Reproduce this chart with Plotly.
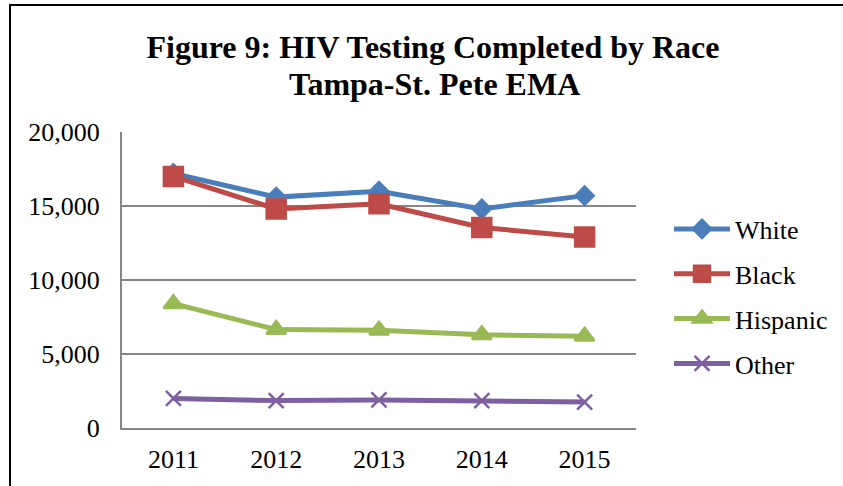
import plotly.graph_objects as go

years = ["2011", "2012", "2013", "2014", "2015"]
white = [17200, 15600, 16000, 14800, 15700]
black = [17000, 14800, 15150, 13550, 12900]
hispanic = [8400, 6650, 6600, 6300, 6200]
other = [2000, 1850, 1900, 1850, 1750]

series = [
    ("White", white, "#4A7EBB", "diamond", 14),
    ("Black", black, "#BE4B48", "square", 19),
    ("Hispanic", hispanic, "#98B954", "triangle-up", 17),
    ("Other", other, "#7D60A0", "x-thin", 15),
]

title_line1 = "Figure 9: HIV Testing Completed by Race"
title_line2 = "Tampa-St. Pete EMA"

FONT = "Liberation Serif, Times New Roman, serif"

fig = go.Figure()
for name, vals, color, sym, size in series:
    fig.add_trace(go.Scatter(
        x=years, y=vals, name=name, mode="lines+markers",
        legendgroup=name,
        line=dict(color=color, width=5),
        marker=dict(symbol=sym, size=size, color=color,
                    line=dict(color=color, width=2.5)),
    ))

W, H = 843, 486
L, R, T, B = 122, 636, 132, 428
PW, PH = R - L, B - T
fig.update_layout(
    width=W, height=H,
    margin=dict(l=L, r=W - R, t=T, b=H - B, autoexpand=False),
    paper_bgcolor="white", plot_bgcolor="white",
    font=dict(family=FONT, size=26, color="black"),
    title=dict(
        text="<b>" + title_line1 + "</b>",
        font=dict(family=FONT, size=32, color="black"),
        x=433 / W, xanchor="center", xref="container",
        y=1 - 47 / H, yanchor="middle", yref="container",
    ),
    annotations=[dict(
        text="<b>" + title_line2 + "</b>", showarrow=False,
        xref="paper", yref="paper",
        x=(434 - L) / PW, xanchor="center",
        y=1 + (T - 84) / PH, yanchor="middle",
        font=dict(family=FONT, size=32, color="black"),
    )],
    showlegend=True,
    legend=dict(
        x=(669 - L) / PW, xanchor="left",
        y=0.444, yanchor="middle",
        font=dict(family=FONT, size=26, color="black"),
        traceorder="grouped", tracegroupgap=8,
        itemwidth=56, bgcolor="rgba(0,0,0,0)",
    ),
    xaxis=dict(
        type="category", range=[-0.5, len(years) - 0.5],
        showline=True, linecolor="#868686", linewidth=2,
        showgrid=False, ticks="", ticklabelstandoff=7,
        tickfont=dict(family=FONT, size=26, color="black"),
    ),
    yaxis=dict(
        range=[0, 20000], dtick=5000, tickformat=",",
        showline=True, linecolor="#868686", linewidth=2,
        showgrid=True, gridcolor="#868686", gridwidth=1.5,
        zeroline=False, ticks="", ticklabelstandoff=15,
        tickfont=dict(family=FONT, size=26, color="black"),
    ),
    shapes=[dict(
        type="rect", xref="paper", yref="paper",
        x0=(10 - L) / PW, x1=(860 - L) / PW,
        y0=(B - 500) / PH, y1=1 + (T - 5) / PH,
        line=dict(color="black", width=2), fillcolor="rgba(0,0,0,0)",
        layer="below",
    )],
)

fig.write_html(
    "out.html",
    config={"displayModeBar": False},
    post_script="document.body.style.margin='0';document.body.style.padding='0';",
)
